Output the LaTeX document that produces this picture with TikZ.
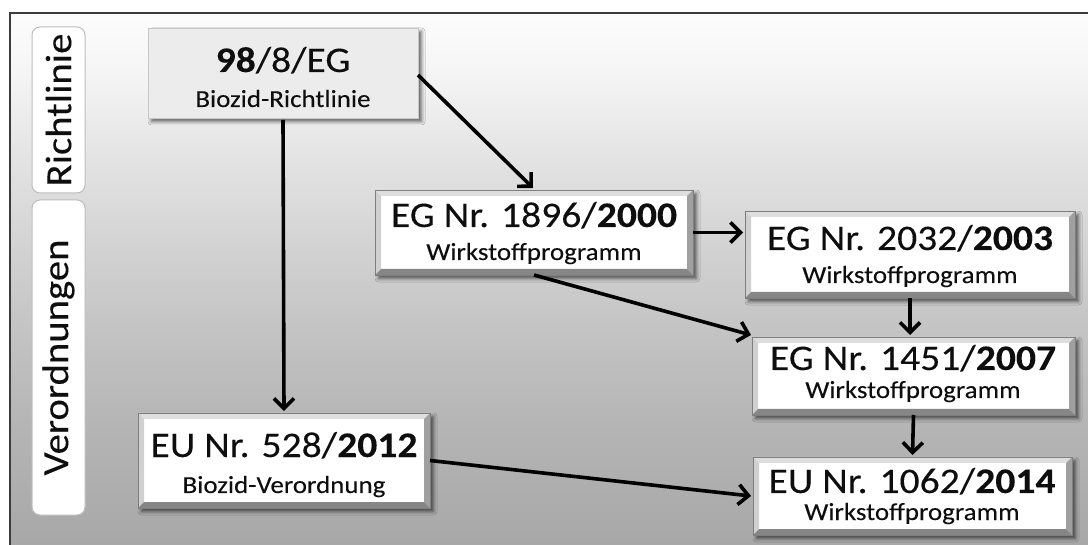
\documentclass[tikz,border=0pt]{standalone}
\usepackage{fontspec}
\setmainfont{Carlito}[FakeStretch=1.1, FakeBold=0.12]
\usetikzlibrary{arrows.meta,shadows.blur}

\definecolor{inktext}{HTML}{0E0E0E}
\definecolor{framegray}{HTML}{3C3C3C}
\definecolor{bgtop}{HTML}{FCFCFC}
\definecolor{bgA}{HTML}{F6F6F6}
\definecolor{bgB}{HTML}{E0E0E0}
\definecolor{bgC}{HTML}{C8C8C8}
\definecolor{bgD}{HTML}{B5B5B5}
\definecolor{bgbot}{HTML}{A7A7A7}
\definecolor{bevtop}{HTML}{DEDEDE}
\definecolor{bevleft}{HTML}{D0D0D0}
\definecolor{bevright}{HTML}{A0A0A0}
\definecolor{bevbottom}{HTML}{868686}
\definecolor{edgegray}{HTML}{7E7E7E}
\definecolor{tabedge}{HTML}{BDBDBD}
\definecolor{headfill}{HTML}{ECECEC}

% vertical backdrop, bottom to top (the path spans 25bp..75bp)
\pgfdeclareverticalshading{backdrop}{100bp}{%
  color(0bp)=(bgbot); color(25bp)=(bgbot); color(37bp)=(bgD);
  color(48bp)=(bgC); color(60bp)=(bgB); color(70bp)=(bgA);
  color(75bp)=(bgtop); color(100bp)=(bgtop)}

\tikzset{
  softshadow/.style={blur shadow={shadow xshift=3.5pt, shadow yshift=-3.5pt,
      shadow blur radius=3.5pt, shadow opacity=60}},
  bevelbox/.style={rectangle, inner sep=0pt, outer sep=0pt,
    draw=edgegray, line width=0.8pt, fill=white, softshadow,
    path picture={
      \coordinate (pNW) at (path picture bounding box.north west);
      \coordinate (pNE) at (path picture bounding box.north east);
      \coordinate (pSW) at (path picture bounding box.south west);
      \coordinate (pSE) at (path picture bounding box.south east);
      \fill[bevtop] (pNW) -- (pNE) -- ([shift={(-6pt,-6pt)}]pNE) -- ([shift={(6pt,-6pt)}]pNW) -- cycle;
      \fill[bevleft] (pNW) -- ([shift={(6pt,-6pt)}]pNW) -- ([shift={(6pt,6pt)}]pSW) -- (pSW) -- cycle;
      \fill[bevright] (pNE) -- (pSE) -- ([shift={(-6pt,6pt)}]pSE) -- ([shift={(-6pt,-6pt)}]pNE) -- cycle;
      \fill[bevbottom] (pSW) -- (pSE) -- ([shift={(-6pt,6pt)}]pSE) -- ([shift={(6pt,6pt)}]pSW) -- cycle;
    }},
  headbox/.style={rectangle, inner sep=0pt, outer sep=0pt,
    draw=black!22, line width=0.8pt, fill=headfill, softshadow},
  tabbox/.style={rectangle, rounded corners=8pt, draw=tabedge, line width=1pt,
    fill=white, inner sep=0pt, rotate=90, text=inktext,
    font=\fontsize{37}{40}\selectfont},
  titletext/.style={anchor=base, inner sep=0pt, text=inktext,
    font=\fontsize{36}{40}\selectfont},
  subtext/.style={anchor=base, inner sep=0pt, text=inktext,
    font=\fontsize{24.5}{28}\selectfont},
  conn/.style={line width=3.6pt, black,
    -{Straight Barb[length=10pt,width=20pt,line width=3.6pt]}},
}

\begin{document}
\begin{tikzpicture}[x=1pt, y=-1pt]
  \useasboundingbox (0,0) rectangle (1088,545);
  \fill[white] (0,0) rectangle (1088,545);

  % panel background with its frame
  \shade[shading=backdrop] (10,13) rectangle (1096,553);
  \draw[framegray, line width=2pt] (10,553) -- (10,13) -- (1096,13);

  % side tabs
  \node[tabbox, minimum width=166pt, minimum height=53pt] (tabR) at (58.5,110) {Richtlinie};
  \node[tabbox, minimum width=315pt, minimum height=53pt] (tabV) at (58.5,357.5) {Verordnungen};

  % boxes
  \node[headbox, minimum width=270pt, minimum height=90pt] (rl) at (283,73) {};
  \node[bevelbox, minimum width=318pt, minimum height=85pt] (p2000) at (534,232.5) {};
  \node[bevelbox, minimum width=330pt, minimum height=87pt] (p2003) at (910,254.5) {};
  \node[bevelbox, minimum width=323pt, minimum height=78pt] (p2007) at (913.5,376) {};
  \node[bevelbox, minimum width=319pt, minimum height=78pt] (p2014) at (912.5,496) {};
  \node[bevelbox, minimum width=292pt, minimum height=95pt] (v2012) at (284,460.5) {};

  % box texts
  \node[titletext] (rlA) at (283,72) {\textbf{98}/8/EG};
  \node[subtext] (rlB) at (283,107) {Biozid-Richtlinie};
  \node[titletext] (p2000A) at (534,227) {EG Nr. 1896/\textbf{2000}};
  \node[subtext] (p2000B) at (534,260) {Wirkstoffprogramm};
  \node[titletext] (p2003A) at (910,250) {EG Nr. 2032/\textbf{2003}};
  \node[subtext] (p2003B) at (910,283) {Wirkstoffprogramm};
  \node[titletext] (p2007A) at (913,370) {EG Nr. 1451/\textbf{2007}};
  \node[subtext] (p2007B) at (913,398) {Wirkstoffprogramm};
  \node[titletext] (p2014A) at (912,493) {EU Nr. 1062/\textbf{2014}};
  \node[subtext] (p2014B) at (912,520) {Wirkstoffprogramm};
  \node[titletext] (v2012A) at (284,457) {EU Nr. 528/\textbf{2012}};
  \node[subtext] (v2012B) at (284,493) {Biozid-Verordnung};

  % connectors
  \draw[conn] ([yshift=-2pt]rl.south) -- ([yshift=2pt]v2012.north);
  \draw[conn] ([yshift=-2pt]rl.east) -- ([shift={(-1pt,2pt)}]p2000.north);
  \draw[conn] (p2000.east) -- ([xshift=-2pt]p2000.east -| p2003.west);
  \draw[conn] (p2000.south) -- ([shift={(-1pt,2pt)}]p2007.north west);
  \draw[conn] (p2003.south) -- ([yshift=2pt]p2003.south |- p2007.north);
  \draw[conn] (p2007.south) -- ([yshift=2pt]p2014.north);
  \draw[conn] (v2012.east) -- ([xshift=-2pt]p2014.west);
\end{tikzpicture}
\end{document}
